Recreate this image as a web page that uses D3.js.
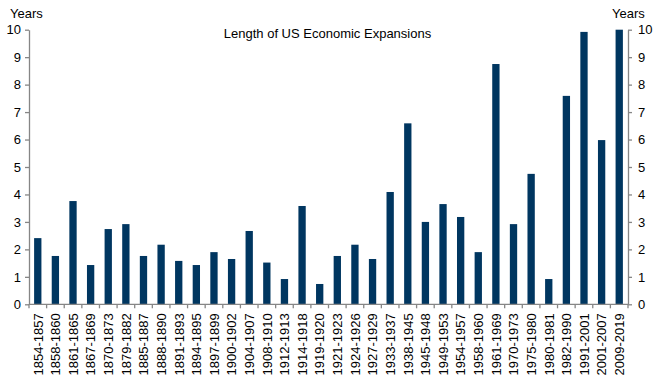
<!DOCTYPE html>
<html><head><meta charset="utf-8">
<script src="https://cdn.jsdelivr.net/npm/d3@7"></script>
<style>body{margin:0;background:#fff}svg{display:block}text{font-family:Arial,"Liberation Sans",sans-serif}</style>
</head><body>
<svg id="c" width="656" height="378"></svg>
<script>
const categories = ["1854-1857","1858-1860","1861-1865","1867-1869","1870-1873","1879-1882","1885-1887","1888-1890","1891-1893","1894-1895","1897-1899","1900-1902","1904-1907","1908-1910","1912-1913","1914-1918","1919-1920","1921-1923","1924-1926","1927-1929","1933-1937","1938-1945","1945-1948","1949-1953","1954-1957","1958-1960","1961-1969","1970-1973","1975-1980","1980-1981","1982-1990","1991-2001","2001-2007","2009-2019"];
const values = [2.41,1.76,3.76,1.43,2.74,2.92,1.76,2.17,1.58,1.43,1.90,1.65,2.67,1.52,0.92,3.58,0.74,1.76,2.17,1.65,4.09,6.59,3.00,3.65,3.18,1.90,8.75,2.92,4.75,0.92,7.59,9.92,5.98,10.0];
const yTicks = [0,1,2,3,4,5,6,7,8,9,10];
const title = "Length of US Economic Expansions";
const unitLabel = "Years";

const svg = d3.select("#c");
const L = 29, R = 628, T = 29.7, B = 304.3;
const FS = "13px";
const x = d3.scaleBand().domain(categories).range([L, R]).paddingInner(0.585).paddingOuter(0.29);
const y = d3.scaleLinear().domain([0, 10]).range([B, T]);
const axisCol = "#868686";
const barCol = "#003660";

svg.append("g").selectAll("rect").data(values).join("rect")
  .attr("x", (d,i) => x(categories[i]))
  .attr("width", x.bandwidth())
  .attr("y", d => y(d))
  .attr("height", d => y(0) - y(d))
  .attr("fill", barCol);

function styleAxis(g){
  g.select(".domain").attr("stroke", axisCol).attr("stroke-width", 1.3);
  g.selectAll(".tick line").attr("stroke", axisCol).attr("stroke-width", 1.3);
  g.selectAll(".tick text").attr("fill", "#000").style("font-size", FS).style("font-family", "Arial, 'Liberation Sans', sans-serif");
}

const yl = svg.append("g").attr("transform", `translate(${L},0)`)
  .call(d3.axisLeft(y).tickValues(yTicks).tickSize(4).tickSizeOuter(0).tickPadding(4).tickFormat(d3.format("d")));
styleAxis(yl);
const yr = svg.append("g").attr("transform", `translate(${R},0)`)
  .call(d3.axisRight(y).tickValues(yTicks).tickSize(4).tickSizeOuter(0).tickPadding(6).tickFormat(d3.format("d")));
styleAxis(yr);

const xa = svg.append("g").attr("transform", `translate(0,${B})`);
xa.append("line").attr("x1", L).attr("x2", R).attr("stroke", axisCol).attr("stroke-width", 1.3);
const bounds = d3.range(categories.length + 1).map(i => L + (R - L) * i / categories.length);
xa.selectAll("line.t").data(bounds).join("line").attr("class","t")
  .attr("x1", d => d).attr("x2", d => d).attr("y1", 0).attr("y2", 4)
  .attr("stroke", axisCol).attr("stroke-width", 1.3);
xa.selectAll("text").data(categories).join("text")
  .attr("transform", d => `translate(${x(d) + x.bandwidth()/2 + 4.8},9) rotate(-90)`)
  .attr("text-anchor", "end")
  .style("font-size", FS)
  .attr("fill", "#000")
  .text(d => d);

svg.append("text").attr("x", 327.5).attr("y", 38).attr("text-anchor", "middle")
  .style("font-size", FS).attr("fill", "#000").text(title);
svg.append("text").attr("x", 10).attr("y", 18).style("font-size", FS).attr("fill", "#000").text(unitLabel);
svg.append("text").attr("x", 612).attr("y", 18).style("font-size", FS).attr("fill", "#000").text(unitLabel);
</script>
</body></html>
